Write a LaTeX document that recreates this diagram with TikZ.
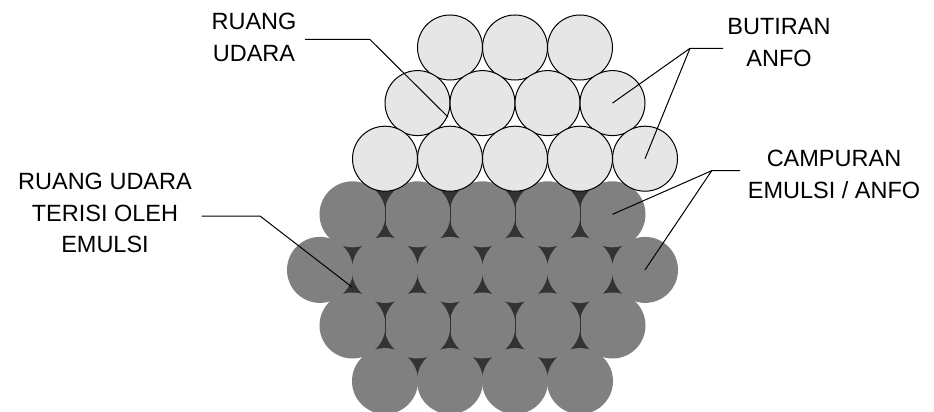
\documentclass[tikz,border=0pt]{standalone}
\usepackage{fontspec}
\setmainfont{Liberation Sans}
\definecolor{grain}{HTML}{E6E6E6}
\definecolor{mixture}{HTML}{808080}
\definecolor{emulsion}{HTML}{333333}
\pgfdeclarelayer{background}
\pgfsetlayers{background,main}
\begin{document}
\begin{tikzpicture}[x=1pt,y=-1pt,
  grainball/.style={circle,inner sep=0pt,outer sep=0pt,minimum size=65pt,
    fill=grain,draw=black,line width=1pt},
  mixball/.style={circle,inner sep=0pt,outer sep=0pt,minimum size=66pt,
    fill=mixture,draw=none},
  seam/.style={draw=emulsion,line width=0.7pt},
  labeltext/.style={align=center,inner sep=0pt,text=black,
    font=\fontsize{23.5}{31.5}\selectfont},
  leader/.style={draw=black,line width=1pt}]
\useasboundingbox (0,0) rectangle (934,412);

% ANFO prills (light, outlined)
\foreach \i in {1,...,3} \node[grainball] (g1-\i) at ({385+65*\i},47.5) {};
\foreach \i in {1,...,4} \node[grainball] (g2-\i) at ({352.5+65*\i},103.1) {};

% emulsion / ANFO mixture (dark)
\foreach \i in {1,...,5} \node[mixball] (m1-\i) at ({287.5+65*\i},214.3) {};
\foreach \i in {1,...,6} \node[mixball] (m2-\i) at ({255+65*\i},269.9) {};
\foreach \i in {1,...,5} \node[mixball] (m3-\i) at ({287.5+65*\i},325.5) {};
\foreach \i in {1,...,4} \node[mixball] (m4-\i) at ({320+65*\i},381.1) {};

% thin emulsion seams where neighbouring balls of a row meet
\foreach \i in {1,...,4} {
  \draw[seam] ({320+65*\i},196) -- ({320+65*\i},232.8);
  \draw[seam] ({320+65*\i},307) -- ({320+65*\i},344);
}

% lowest row of prills sits on the mixture
\foreach \i in {1,...,5} \node[grainball] (g3-\i) at ({320+65*\i},158.7) {};

% voids filled with emulsion, behind the mixture balls
\begin{pgfonlayer}{background}
  \fill[white] (0,0) rectangle (934,412);
  \fill[emulsion] (m1-1.center) -- (g3-1.center) -- (m1-2.center) -- (g3-2.center)
    -- (m1-3.center) -- (g3-3.center) -- (m1-4.center) -- (g3-4.center)
    -- (m1-5.center) -- (m2-6.center) -- (m3-5.center) -- (m4-4.center)
    -- (m4-1.center) -- (m3-1.center) -- (m2-1.center) -- cycle;
\end{pgfonlayer}

% labels
\node[labeltext,anchor=north] (t-air) at (254,13.3) {RUANG\\UDARA};
\node[labeltext,anchor=north] (t-grain) at (779,18.3) {BUTIRAN\\ANFO};
\node[labeltext,anchor=north] (t-mix) at (834,150) {CAMPURAN\\EMULSI / ANFO};
\node[labeltext,anchor=north] (t-fill) at (105,173) {RUANG UDARA\\TERISI OLEH\\EMULSI};

% leader lines
\coordinate (air-a) at (305,39.5);
\coordinate (air-b) at (370,39.5);
\coordinate (air-gap) at (448,117);
\draw[leader] (air-a) -- (air-b) -- (air-gap);

\coordinate (grn-a) at (723,48.3);
\coordinate (grn-b) at (690,48.3);
\draw[leader] (grn-a) -- (grn-b) -- (g2-4.center);
\draw[leader] (grn-b) -- (g3-5.center);

\coordinate (mix-a) at (740,170.7);
\coordinate (mix-b) at (711.7,170.7);
\draw[leader] (mix-a) -- (mix-b) -- (m1-5.center);
\draw[leader] (mix-b) -- (m2-6.center);

\coordinate (emu-a) at (201.7,216);
\coordinate (emu-b) at (260,216);
\coordinate (emu-gap) at (352,287);
\draw[leader] (emu-a) -- (emu-b) -- (emu-gap);
\end{tikzpicture}
\end{document}
